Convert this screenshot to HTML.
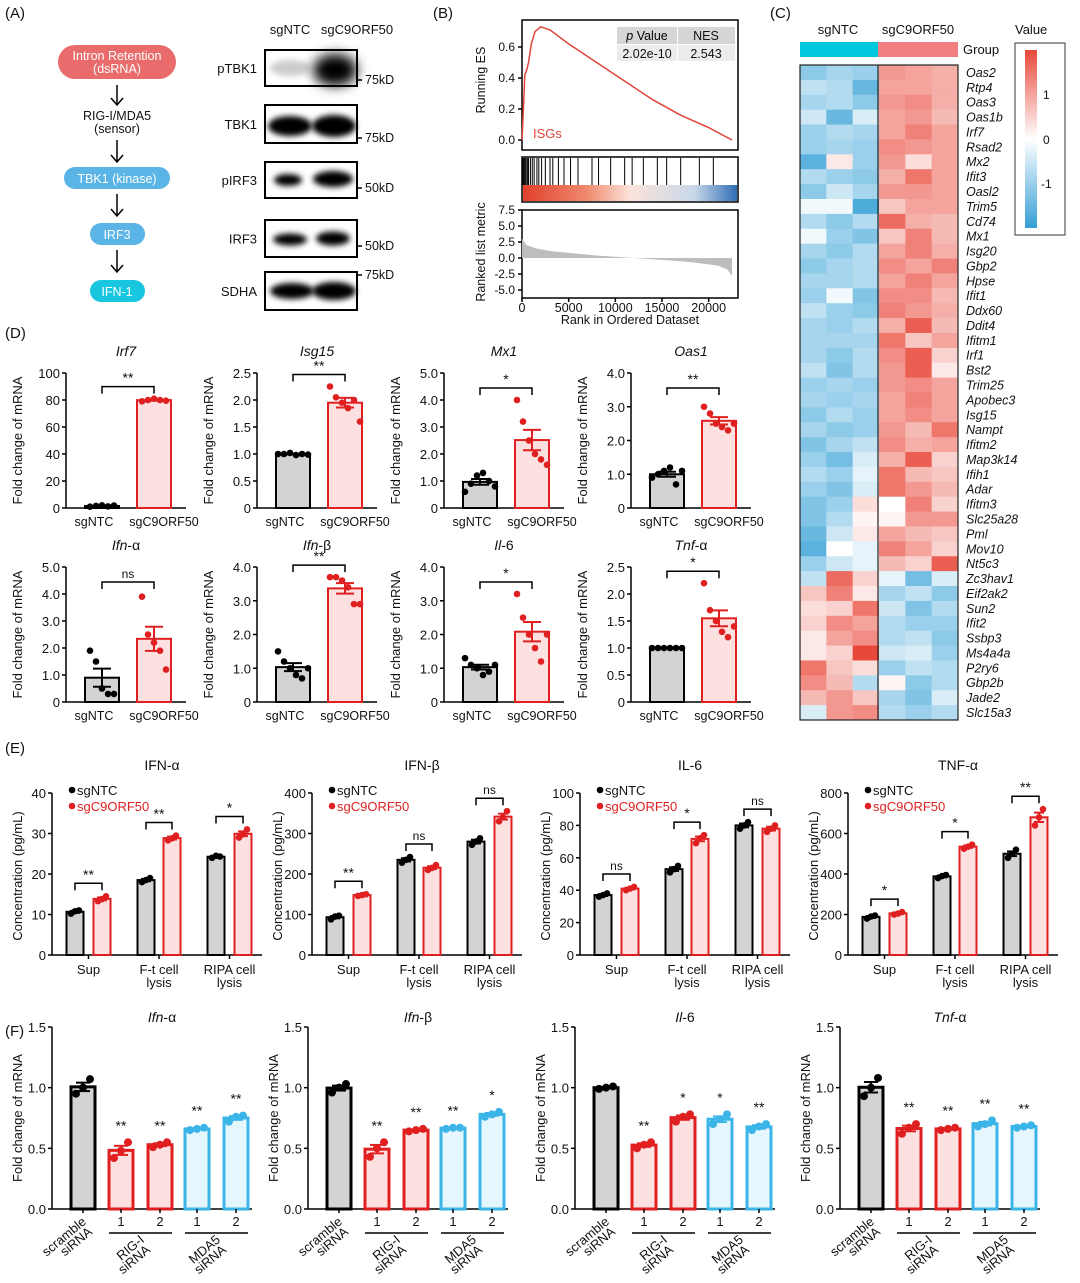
<!DOCTYPE html>
<html><head><meta charset="utf-8"><style>
body{margin:0;background:#fff}
svg{display:block;font-family:"Liberation Sans",Arial,sans-serif}
</style></head><body>
<svg id="fig" width="1080" height="1283" viewBox="0 0 1080 1283" xmlns="http://www.w3.org/2000/svg">
<defs>
<filter id="blur" x="-50%" y="-50%" width="200%" height="200%"><feGaussianBlur stdDeviation="3"/></filter>
<filter id="blur2" x="-50%" y="-50%" width="200%" height="200%"><feGaussianBlur stdDeviation="6"/></filter>
<linearGradient id="bcgrad" x1="0" x2="1" y1="0" y2="0"><stop offset="0" stop-color="#e0402e"/><stop offset="0.3" stop-color="#f08a6e"/><stop offset="0.5" stop-color="#fbe3da"/><stop offset="0.8" stop-color="#c9d8ea"/><stop offset="1" stop-color="#2f6db5"/></linearGradient>
<linearGradient id="valgrad" x1="0" x2="0" y1="0" y2="1"><stop offset="0" stop-color="#e8483a"/><stop offset="0.5" stop-color="#ffffff"/><stop offset="1" stop-color="#35a0d6"/></linearGradient>
</defs>
</svg>
<script>
// ---------------- DATA ----------------
// Panel B
const esRank=[0,150,300,500,700,1000,1400,2000,3000,5000,8000,11000,14000,17000,20000,22500];
const esVal=[0,0.2,0.42,0.45,0.5,0.62,0.7,0.73,0.71,0.62,0.5,0.38,0.26,0.16,0.08,0];
const hitRanks=[100,200,300,350,450,600,700,900,1100,1300,1600,1800,2100,2500,3000,3300,3900,4500,5200,6000,7500,8200,9500,11000,11800,13000,14500,15500,17000,19000,20500];
const metricRank=[0,500,1500,3000,5000,8000,11000,14000,17000,19000,21000,22000,22500];
const metricVal=[3.0,2.0,1.5,1.1,0.8,0.4,0.1,-0.2,-0.5,-0.8,-1.2,-1.8,-2.8];
const esTicks=[0,0.2,0.4,0.6];
const rkTicks=[-5,-2.5,0,2.5,5,7.5];
const rankTicks=[0,5000,10000,15000,20000];
// Panel C
const genes=["Oas2","Rtp4","Oas3","Oas1b","Irf7","Rsad2","Mx2","Ifit3","Oasl2","Trim5","Cd74","Mx1","Isg20","Gbp2","Hpse","Ifit1","Ddx60","Ddit4","Ifitm1","Irf1","Bst2","Trim25","Apobec3","Isg15","Nampt","Ifitm2","Map3k14","Ifih1","Adar","Ifitm3","Slc25a28","Pml","Mov10","Nt5c3","Zc3hav1","Eif2ak2","Sun2","Ifit2","Ssbp3","Ms4a4a","P2ry6","Gbp2b","Jade2","Slc15a3"];
const heat=[
[-0.9,-0.7,-0.8,0.9,0.8,0.7],[-0.5,-0.6,-1.2,0.8,0.8,0.7],[-0.7,-0.6,-0.9,0.9,1.0,0.7],[-0.4,-1.2,-0.3,0.8,0.9,0.6],
[-0.8,-0.6,-0.7,0.8,1.1,0.8],[-0.8,-0.7,-0.8,1.0,0.9,0.8],[-1.3,0.2,-0.8,0.9,0.3,0.8],[-0.6,-0.8,-0.9,0.7,1.2,0.8],
[-0.9,-0.4,-0.7,0.9,0.9,0.8],[-0.1,-0.1,-1.4,0.5,0.8,0.8],[-0.6,-0.9,-0.6,1.3,0.7,0.6],[-0.1,-0.8,-1.0,0.5,1.1,0.6],
[-0.7,-0.9,-0.6,0.8,1.1,0.7],[-0.9,-0.7,-0.6,1.0,0.8,1.1],[-0.7,-0.7,-0.6,0.8,1.1,0.8],[-0.8,-0.1,-1.0,1.0,1.0,0.6],
[-0.5,-0.8,-0.9,1.1,0.9,0.7],[-0.7,-0.8,-0.6,0.7,1.4,0.6],[-0.7,-0.7,-0.7,1.2,0.5,0.8],[-0.7,-0.9,-0.6,1.0,1.4,0.4],
[-0.5,-1.0,-0.6,0.9,1.4,0.2],[-0.8,-0.7,-0.8,0.9,1.0,0.8],[-0.7,-0.8,-0.7,0.8,1.1,0.8],[-0.9,-0.6,-0.8,0.8,1.0,0.8],
[-0.7,-0.9,-0.8,0.9,0.6,1.2],[-1.0,-0.7,-0.5,1.0,0.7,0.8],[-0.8,-1.1,-0.3,0.7,1.4,0.4],[-0.6,-0.8,-0.2,1.2,0.6,0.5],
[-0.8,-1.0,-0.3,1.2,0.9,0.6],[-1.0,-0.8,0.3,0.0,1.1,0.4],[-1.0,-0.6,0.1,0.1,0.9,0.9],[-1.2,-0.4,0.2,0.8,0.6,0.5],
[-1.3,0.0,-0.2,1.1,0.8,0.4],[-0.8,-0.4,-0.2,0.6,0.4,1.4],[-0.5,1.3,0.4,-0.2,-1.1,-0.3],[0.5,1.1,0.2,-0.7,-0.5,-0.9],
[0.3,0.4,1.2,-0.4,-1.0,-0.6],[0.4,1.0,0.8,-0.6,-0.8,-0.8],[0.2,0.8,1.0,-0.6,-0.5,-0.9],[0.2,0.4,1.6,-0.4,-0.3,-0.8],
[1.2,0.5,0.3,-0.8,-0.5,-0.6],[1.0,0.6,-0.6,0.1,-0.9,-0.6],[0.6,0.9,0.5,-0.7,-1.0,-0.3],[-0.3,0.9,1.0,-0.6,-0.8,-0.6]];
// Panel D
const dTitles=[["Irf7",""],["Isg15",""],["Mx1",""],["Oas1",""],["Ifn","-α"],["Ifn","-β"],["Il","-6"],["Tnf","-α"]];
const dMax=[100,2.5,5,4,5,4,4,2.5];
const dTicks=[[0,20,40,60,80,100],[0,0.5,1,1.5,2,2.5],[0,1,2,3,4,5],[0,1,2,3,4],[0,1,2,3,4,5],[0,1,2,3,4],[0,1,2,3,4],[0,0.5,1,1.5,2,2.5]];
const dTickLabels=[["0","20","40","60","80","100"],["0","0.5","1.0","1.5","2.0","2.5"],["0","1.0","2.0","3.0","4.0","5.0"],["0","1.0","2.0","3.0","4.0"],["0","1.0","2.0","3.0","4.0","5.0"],["0","1.0","2.0","3.0","4.0"],["0","1.0","2.0","3.0","4.0"],["0","0.5","1.0","1.5","2.0","2.5"]];
const dNTC=[[1,1.5,2,1.2,1.8],[1,1,1.02,0.98,1.0,0.99],[0.6,0.9,1.2,1.3,1.0,0.8],[0.9,1.0,1.1,1.2,0.7,1.1],[1.9,1.5,0.5,0.3,0.3],[1.5,1.2,1.0,0.8,0.7,1.0],[1.3,1.1,1.0,0.8,0.9,1.1],[1,1,1,1,1,1]];
const dC9=[[79,80,81,80,79.5],[2.25,2.05,1.95,1.85,2.0,1.6],[4.0,3.2,2.5,2.0,1.8,1.6],[3.0,2.8,2.5,2.4,2.3,2.5],[3.9,2.5,2.2,1.9,1.2],[3.7,3.7,3.6,3.4,2.9,2.9],[3.2,2.5,2.0,1.6,1.2,2.0],[2.2,1.7,1.5,1.3,1.2,1.4]];
const dSig=["**","**","*","**","ns","**","*","*"];
// Panel E
const eTitles=["IFN-α","IFN-β","IL-6","TNF-α"];
const eGroups=[["Sup"],["F-t cell","lysis"],["RIPA cell","lysis"]];
const eMax=[40,400,100,800];
const eTicks=[[0,10,20,30,40],[0,100,200,300,400],[0,20,40,60,80,100],[0,200,400,600,800]];
const eNTC=[[[10.2,10.8,11.0],[18,18.5,19],[24,24.5,24.3]],[[88,95,97],[228,235,242],[272,280,288]],[[36,37,38],[51,53,55],[78,80,82]],[[180,190,195],[380,390,395],[480,500,520]]];
const eC9=[[[13.3,13.8,14.5],[28.3,28.8,29.5],[29,29.8,31]],[[146,148,150],[210,215,222],[330,340,355]],[[40,41,42],[69,72,74],[76,78,80]],[[200,205,212],[525,535,545],[640,680,720]]];
const eSig=[["**","**","*"],["**","ns","ns"],["ns","*","ns"],["*","*","**"]];
// Panel F
const fTitles=[["Ifn","-α"],["Ifn","-β"],["Il","-6"],["Tnf","-α"]];
const fVals=[
[[0.95,1.0,1.07],[0.42,0.48,0.55],[0.51,0.53,0.55],[0.65,0.66,0.67],[0.72,0.76,0.77]],
[[0.96,1.0,1.03],[0.43,0.5,0.55],[0.64,0.65,0.66],[0.66,0.67,0.67],[0.76,0.78,0.8]],
[[0.99,1.0,1.01],[0.5,0.53,0.55],[0.72,0.76,0.78],[0.7,0.74,0.78],[0.65,0.68,0.7]],
[[0.93,1.0,1.08],[0.62,0.67,0.7],[0.65,0.66,0.67],[0.68,0.7,0.73],[0.67,0.68,0.69]]];
const fSig=[["","**","**","**","**"],["","**","**","**","*"],["","**","*","*","**"],["","**","**","**","**"]];
const fTicks=[0,0.5,1.0,1.5];
const fTickLabels=["0.0","0.5","1.0","1.5"];

// ---------------- HELPERS ----------------
const NS="http://www.w3.org/2000/svg";
const S=document.getElementById('fig');
function el(tag,attrs,name,parent){
  const e=document.createElementNS(NS,tag);
  for(const k in attrs)e.setAttribute(k,attrs[k]);
  
  
  (parent||S).appendChild(e);return e;
}
function txt(x,y,s,name,o){
  o=o||{};
  const t=el('text',{x:x,y:y,'font-size':o.fs||13,'text-anchor':o.a||'start',fill:o.fill||'#111','font-style':o.it?'italic':'normal'},name);
  if(o.rot!==undefined)t.setAttribute('transform','rotate('+o.rot+' '+x+' '+y+')');
  t.textContent=s;return t;
}
function line(x1,y1,x2,y2,name,c,w){return el('line',{x1:x1,y1:y1,x2:x2,y2:y2,stroke:c||'#000','stroke-width':w||1.5},name);}
function mean(a){return a.reduce((s,v)=>s+v,0)/a.length;}
function sem(a){const m=mean(a);return Math.sqrt(a.reduce((s,v)=>s+(v-m)*(v-m),0)/(a.length-1))/Math.sqrt(a.length);}
function italTitle(x,y,parts,name,fs){
  const t=el('text',{x:x,y:y,'font-size':fs||14,'text-anchor':'middle',fill:'#111'},name);
  const a=document.createElementNS(NS,'tspan');a.setAttribute('font-style','italic');a.textContent=parts[0];t.appendChild(a);
  const b=document.createElementNS(NS,'tspan');b.textContent=parts[1];t.appendChild(b);
}
function bar(cx,val,w,y,name,stroke,fill,lw){
  const y0=y(0),y1=y(val);
  return el('rect',{x:cx-w/2,y:y1,width:w,height:y0-y1,fill:fill,stroke:stroke,'stroke-width':lw||2.5},name);
}
function errbar(cx,pts,y,c,cap){
  const m=mean(pts),s=sem(pts);
  line(cx,y(m+s),cx,y(m-s),'error-bar',c,2);
  line(cx-cap,y(m+s),cx+cap,y(m+s),'error-cap',c,2);
  line(cx-cap,y(m-s),cx+cap,y(m-s),'error-cap',c,2);
}
function dots(cx,pts,y,c,spread,r){
  pts.forEach((v,i)=>{const off=(i-(pts.length-1)/2)*spread;
    el('circle',{cx:cx+off,cy:y(v),r:r||3.3,fill:c},'data-point');});
}
function bracket(x1,x2,yy,label,name){
  el('path',{d:`M${x1} ${yy+7}V${yy}H${x2}V${yy+7}`,fill:'none',stroke:'#000','stroke-width':1.5},name);
  txt((x1+x2)/2,yy-4,label,'significance-label',{a:'middle',fs:label==='ns'?12:14});
}

// ---------------- PANEL LABELS ----------------
txt(5,18,"(A)",'panel-label-a',{fs:15});
txt(433,18,"(B)",'panel-label-b',{fs:15});
txt(770,18,"(C)",'panel-label-c',{fs:15});
txt(5,338,"(D)",'panel-label-d',{fs:15});
txt(5,753,"(E)",'panel-label-e',{fs:15});
txt(5,1036,"(F)",'panel-label-f',{fs:15});

// ---------------- PANEL A ----------------
el('rect',{x:58,y:45,width:118,height:34,rx:17,fill:'#e96b6b'},'intron-retention-box');
txt(117,60,"Intron Retention",'intron-retention-text',{a:'middle',fill:'#fff',fs:12.5});
txt(117,73,"(dsRNA)",'intron-retention-text',{a:'middle',fill:'#fff',fs:12.5});
txt(117,120,"RIG-I/MDA5",'sensor-text',{a:'middle',fs:12.5});
txt(117,133,"(sensor)",'sensor-text',{a:'middle',fs:12.5});
el('rect',{x:64,y:167,width:106,height:22,rx:11,fill:'#5ab4e5'},'tbk1-box');
txt(117,183,"TBK1 (kinase)",'tbk1-text',{a:'middle',fill:'#fff',fs:12.5});
el('rect',{x:90,y:223,width:55,height:22,rx:11,fill:'#5ab4e5'},'irf3-box');
txt(117,239,"IRF3",'irf3-text',{a:'middle',fill:'#fff',fs:12.5});
el('rect',{x:90,y:280,width:55,height:22,rx:11,fill:'#18c6e0'},'ifn1-box');
txt(117,296,"IFN-1",'ifn1-text',{a:'middle',fill:'#fff',fs:12.5});
[[85,105],[140,162],[194,216],[250,272]].forEach(a=>{
  line(117,a[0],117,a[1],'pathway-arrow','#000',1.5);
  el('path',{d:`M111 ${a[1]-7}L117 ${a[1]}L123 ${a[1]-7}`,fill:'none',stroke:'#000','stroke-width':1.5},'arrow-head');
});
txt(290,34,"sgNTC",'blot-header-ntc',{a:'middle',fs:13});
txt(357,34,"sgC9ORF50",'blot-header-c9',{a:'middle',fs:13});
const blots=[["pTBK1",50,86,"75kD",84],["TBK1",105,143,"75kD",142],["pIRF3",162,198,"50kD",192],["IRF3",220,257,"50kD",250],["SDHA",272,310,"75kD",279]];
blots.forEach((b,i)=>{
  const g=el('g',{},'blot-'+b[0].toLowerCase());
  el('rect',{x:265,y:b[1],width:92,height:b[2]-b[1],fill:'#fff',stroke:'#000','stroke-width':2},'blot-frame',g);
  const cy=(b[1]+b[2])/2;
  if(i===0){
    el('ellipse',{cx:290,cy:cy,rx:20,ry:8,fill:'#ccc',filter:'url(#blur)'},'band',g);
    el('ellipse',{cx:335,cy:cy+2,rx:22,ry:16,fill:'#000',filter:'url(#blur2)'},'band',g);
  }else if(i===1){
    el('ellipse',{cx:290,cy:cy+2,rx:22,ry:10,fill:'#000',filter:'url(#blur)'},'band',g);
    el('ellipse',{cx:334,cy:cy+2,rx:22,ry:11,fill:'#000',filter:'url(#blur)'},'band',g);
  }else if(i===2){
    el('ellipse',{cx:288,cy:cy,rx:14,ry:6,fill:'#000',filter:'url(#blur)'},'band',g);
    el('ellipse',{cx:333,cy:cy-1,rx:20,ry:8,fill:'#000',filter:'url(#blur)'},'band',g);
  }else if(i===3){
    el('ellipse',{cx:290,cy:cy+1,rx:17,ry:6,fill:'#000',filter:'url(#blur)'},'band',g);
    el('ellipse',{cx:333,cy:cy,rx:17,ry:7,fill:'#000',filter:'url(#blur)'},'band',g);
  }else{
    el('ellipse',{cx:292,cy:cy,rx:22,ry:8,fill:'#000',filter:'url(#blur)'},'band',g);
    el('ellipse',{cx:334,cy:cy,rx:22,ry:9,fill:'#000',filter:'url(#blur)'},'band',g);
  }
  txt(257,(b[1]+b[2])/2+5,b[0],'blot-label',{a:'end',fs:13});
  line(357,b[4]-4,362,b[4]-4,'marker-tick','#000',1.5);
  txt(365,b[4],b[3],'kd-marker',{fs:12.5});
});

// ---------------- PANEL B ----------------
const bx=r=>522+r/22500*210;
const esY=v=>140-(v/0.6)*93;
el('rect',{x:522,y:20,width:216,height:130,fill:'none',stroke:'#000','stroke-width':1.5},'es-plot-frame');
esTicks.forEach(t=>{line(518,esY(t),522,esY(t),'es-tick');txt(515,esY(t)+4,t.toFixed(1),'es-tick-label',{a:'end',fs:12});});
txt(485,80,"Running ES",'es-axis-title',{a:'middle',rot:-90,fs:12.5});
el('polyline',{points:esRank.map((r,i)=>bx(r)+','+esY(esVal[i])).join(' '),fill:'none',stroke:'#e0443a','stroke-width':1.5},'running-es-line');
txt(533,138,"ISGs",'gene-set-label',{fill:'#e0443a',fs:13});
el('rect',{x:617,y:27,width:60,height:17,fill:'#d6d6d6'},'table-header-p');
el('rect',{x:678,y:27,width:57,height:17,fill:'#d6d6d6'},'table-header-nes');
el('rect',{x:617,y:45,width:60,height:16,fill:'#ececec'},'table-cell-p');
el('rect',{x:678,y:45,width:57,height:16,fill:'#ececec'},'table-cell-nes');
const pt=el('text',{x:647,y:40,'font-size':12.5,'text-anchor':'middle'},'p-value-header');
pt.innerHTML='<tspan font-style="italic">p</tspan> Value';
txt(706,40,"NES",'nes-header',{a:'middle',fs:12.5});
txt(647,58,"2.02e-10",'p-value',{a:'middle',fs:12.5});
txt(706,58,"2.543",'nes-value',{a:'middle',fs:12.5});
el('rect',{x:522,y:157,width:216,height:45,fill:'none',stroke:'#000','stroke-width':1.5},'barcode-frame');
hitRanks.forEach(r=>line(bx(r),158,bx(r),185,'hit-line','#000',1));
el('rect',{x:523,y:185,width:214,height:16,fill:'url(#bcgrad)'},'rank-gradient');
el('rect',{x:522,y:210,width:216,height:88,fill:'none',stroke:'#000','stroke-width':1.5},'metric-plot-frame');
const mY=v=>258-v/2.5*16;
rkTicks.forEach(t=>{line(518,mY(t),522,mY(t),'metric-tick');txt(515,mY(t)+4,t.toFixed(1),'metric-tick-label',{a:'end',fs:12});});
el('polygon',{points:bx(0)+','+mY(0)+' '+metricRank.map((r,i)=>bx(r)+','+mY(metricVal[i])).join(' ')+' '+bx(22500)+','+mY(0),fill:'#bdbdbd'},'ranked-metric-area');
txt(485,252,"Ranked list metric",'metric-axis-title',{a:'middle',rot:-90,fs:12.5});
rankTicks.forEach(t=>{line(bx(t),298,bx(t),302,'rank-tick');txt(bx(t),312,String(t),'rank-tick-label',{a:'middle',fs:12.5});});
txt(630,324,"Rank in Ordered Dataset",'rank-axis-title',{a:'middle',fs:12.5});

// ---------------- PANEL C ----------------
function hcol(v){
  const t=Math.max(-1.6,Math.min(1.6,v))/1.6;
  const lerp=(a,b,f)=>Math.round(a+(b-a)*f);
  if(t>=0)return `rgb(${lerp(255,232,t)},${lerp(255,72,t)},${lerp(255,58,t)})`;
  return `rgb(${lerp(255,53,-t)},${lerp(255,160,-t)},${lerp(255,214,-t)})`;
}
txt(838,34,"sgNTC",'heatmap-header-ntc',{a:'middle',fs:13});
txt(918,34,"sgC9ORF50",'heatmap-header-c9',{a:'middle',fs:13});
el('rect',{x:800,y:42,width:78,height:15,fill:'#00c8dc'},'group-bar-ntc');
el('rect',{x:878,y:42,width:80,height:15,fill:'#f08080'},'group-bar-c9');
txt(963,54,"Group",'group-label',{fs:13});
const rh=(720-65)/genes.length,cw=158/6;
genes.forEach((g,i)=>{
  heat[i].forEach((v,j)=>{
    el('rect',{x:800+j*cw,y:65+i*rh,width:cw+0.5,height:rh+0.5,fill:hcol(v)},'heatmap-cell');
  });
  txt(966,65+i*rh+rh-3,g,'gene-label',{it:true,fs:12.5});
});
el('rect',{x:800,y:65,width:158,height:655,fill:'none',stroke:'#222','stroke-width':1.2},'heatmap-frame');
line(878,65,878,720,'group-divider','#222',1.2);
txt(1015,34,"Value",'legend-title',{fs:13});
el('rect',{x:1015,y:43,width:50,height:192,fill:'none',stroke:'#333','stroke-width':1},'legend-frame');
el('rect',{x:1025,y:50,width:12,height:178,fill:'url(#valgrad)'},'legend-gradient');
txt(1043,99,"1",'legend-tick',{fs:12});
txt(1043,144,"0",'legend-tick',{fs:12});
txt(1041,188,"-1",'legend-tick',{fs:12});

// ---------------- PANEL D ----------------
const dAx=[66,257,444,631];
dTitles.forEach((tt,k)=>{
  const ax=dAx[k%4],top=k<4?373:567,bot=k<4?508:702;
  const y=v=>bot-v/dMax[k]*(bot-top);
  italTitle(ax+60,top-17,tt,'subplot-title',14);
  line(ax,top,ax,bot,'y-axis');line(ax,bot,ax+120,bot,'x-axis');
  dTicks[k].forEach((t,i)=>{line(ax-4,y(t),ax,y(t),'y-tick');txt(ax-6,y(t)+5,dTickLabels[k][i],'y-tick-label',{a:'end',fs:13});});
  txt(ax-44,(top+bot)/2,"Fold change of mRNA",'y-axis-title',{a:'middle',rot:-90,fs:13});
  const c1=ax+36,c2=ax+88;
  bar(c1,mean(dNTC[k]),34,y,'bar-sgntc','#000','#d3d3d3',2);
  bar(c2,mean(dC9[k]),34,y,'bar-sgc9orf50','#e02020','#fde0e0',2);
  errbar(c1,dNTC[k],y,'#000',9);errbar(c2,dC9[k],y,'#e02020',9);
  dots(c1,dNTC[k],y,'#000',6,3.3);dots(c2,dC9[k],y,'#e02020',6,3.3);
  const mx=Math.max(...dC9[k],...dNTC[k]);
  bracket(c1,c2,Math.min(y(mx)-12,top+15),dSig[k],'significance-bracket');
  txt(ax+28,bot+18,"sgNTC",'x-tick-label',{a:'middle',fs:12.5});
  txt(ax+98,bot+18,"sgC9ORF50",'x-tick-label',{a:'middle',fs:12.5});
});

// ---------------- PANEL E ----------------
const eAx=[52,312,580,848];
const eOff=[[23,50],[94,120],[164,191]];
eTitles.forEach((tt,k)=>{
  const ax=eAx[k],top=793,bot=955;
  const y=v=>bot-v/eMax[k]*(bot-top);
  txt(ax+110,770,tt,'subplot-title',{a:'middle',fs:14});
  line(ax,top,ax,bot,'y-axis');line(ax,bot,ax+210,bot,'x-axis');
  eTicks[k].forEach(t=>{line(ax-4,y(t),ax,y(t),'y-tick');txt(ax-6,y(t)+5,String(t),'y-tick-label',{a:'end',fs:13});});
  txt(ax-30,(top+bot)/2+2,"Concentration (pg/mL)",'y-axis-title',{a:'middle',rot:-90,fs:13});
  el('circle',{cx:ax+20,cy:790,r:3.3,fill:'#000'},'legend-dot-sgntc');
  txt(ax+25,795,"sgNTC",'legend-sgntc',{fs:13});
  el('circle',{cx:ax+20,cy:806,r:3.3,fill:'#e02020'},'legend-dot-sgc9orf50');
  txt(ax+25,811,"sgC9ORF50",'legend-sgc9orf50',{fs:13,fill:'#e02020'});
  eGroups.forEach((g,i)=>{
    const c1=ax+eOff[i][0],c2=ax+eOff[i][1];
    bar(c1,mean(eNTC[k][i]),17,y,'bar-sgntc','#000','#d3d3d3',2);
    bar(c2,mean(eC9[k][i]),17,y,'bar-sgc9orf50','#e02020','#fde0e0',2);
    errbar(c1,eNTC[k][i],y,'#000',5);errbar(c2,eC9[k][i],y,'#e02020',5);
    dots(c1,eNTC[k][i],y,'#000',4,3.3);dots(c2,eC9[k][i],y,'#e02020',4,3.3);
    const mx=Math.max(...eNTC[k][i],...eC9[k][i]);
    bracket(c1,c2,y(mx)-13,eSig[k][i],'significance-bracket');
    line((c1+c2)/2,bot,(c1+c2)/2,bot+4,'x-tick');
    g.forEach((s,j)=>txt((c1+c2)/2,bot+19+j*13,s,'x-tick-label',{a:'middle',fs:13}));
  });
});

// ---------------- PANEL F ----------------
const fAx=[52,308,575,840];
const fOff=[31,69,108,145,184];
const fStroke=['#000','#e02020','#e02020','#3bb5e8','#3bb5e8'];
const fFill=['#d3d3d3','#fde0e0','#fde0e0','#e6f6fd','#e6f6fd'];
const fDot=['#000','#e02020','#e02020','#3bb5e8','#3bb5e8'];
fTitles.forEach((tt,k)=>{
  const ax=fAx[k],top=1027,bot=1209;
  const y=v=>bot-v/1.5*(bot-top);
  italTitle(ax+110,1022,tt,'subplot-title',14);
  line(ax,top,ax,bot,'y-axis');line(ax,bot,ax+200,bot,'x-axis');
  fTicks.forEach((t,i)=>{line(ax-4,y(t),ax,y(t),'y-tick');txt(ax-6,y(t)+5,fTickLabels[i],'y-tick-label',{a:'end',fs:13});});
  txt(ax-30,(top+bot)/2,"Fold change of mRNA",'y-axis-title',{a:'middle',rot:-90,fs:13});
  fVals[k].forEach((pts,i)=>{
    const c=ax+fOff[i];
    bar(c,mean(pts),24,y,'bar-'+i,fStroke[i],fFill[i],3);
    errbar(c,pts,y,fStroke[i],7);
    dots(c,pts,y,fDot[i],7,4);
    if(fSig[k][i])txt(c,y(Math.max(...pts))-12,fSig[k][i],'significance-label',{a:'middle',fs:14});
    line(c,bot,c,bot+4,'x-tick');
    if(i>0)txt(c,bot+17,String(i%2===1?1:2),'replicate-label',{a:'middle',fs:13});
  });
  line(ax+fOff[1]-12,bot+24,ax+fOff[2]+12,bot+24,'group-underline','#000',1.5);
  line(ax+fOff[3]-12,bot+24,ax+fOff[4]+12,bot+24,'group-underline','#000',1.5);
  [[ax+fOff[0]+4,bot+14,"scramble"],[ax+fOff[0]+10,bot+24,"siRNA"],[ax+fOff[1]+24,bot+32,"RIG-I"],[ax+fOff[1]+30,bot+42,"siRNA"],[ax+fOff[3]+24,bot+32,"MDA5"],[ax+fOff[3]+30,bot+42,"siRNA"]].forEach(l=>{
    txt(l[0],l[1],l[2],'x-category-label',{a:'end',fs:13,rot:-40});
  });
});
</script>
</body></html>
